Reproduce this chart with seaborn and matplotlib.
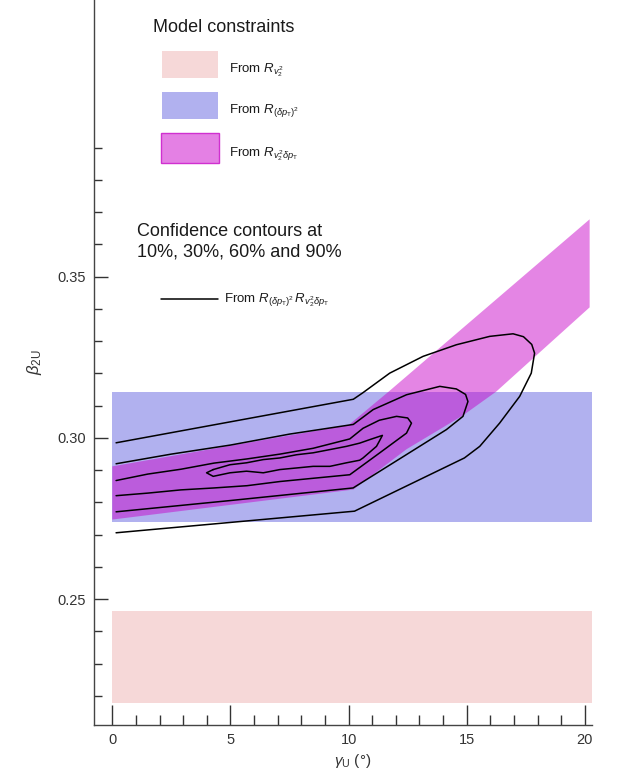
import matplotlib
matplotlib.use('Agg')
import matplotlib.pyplot as plt
import seaborn as sns
import pandas as pd
from matplotlib.patches import Rectangle

# ---- data ----
band_gamma = [0.0, 20.3]

# From R_{v2^2}
v2_lo = 0.2178
v2_hi = 0.2465

# From R_{(dpT)^2}
pt_lo = 0.2740
pt_hi = 0.3143

# From R_{v2^2 dpT} (band with a kink)
mix_upper_gamma = [0.0, 10.0, 11.7, 20.2]
mix_upper_beta = [0.2912, 0.3040, 0.3144, 0.3678]
mix_lower_gamma = [0.0, 10.2, 12.45, 14.84, 16.25, 20.2]
mix_lower_beta = [0.2747, 0.2840, 0.2965, 0.3070, 0.3144, 0.3405]

# confidence contours
c90_gamma = [0.16, 10.2, 10.6, 11.74, 13.15, 14.56, 15.97, 16.96, 17.4, 17.75, 17.87,
             17.73, 17.24, 16.39, 15.55, 14.9, 10.25, 0.16]
c90_beta = [0.2985, 0.3120, 0.3140, 0.3201, 0.3253, 0.3289, 0.3315, 0.3323, 0.3314, 0.3290, 0.3263,
            0.3201, 0.3129, 0.3046, 0.2974, 0.2938, 0.2773, 0.2706]

c60_gamma = [0.16, 2.5, 5.0, 7.5, 10.2, 11.04, 12.45, 13.86, 14.56, 14.95, 15.05,
             14.84, 14.14, 10.19, 5.0, 0.16]
c60_beta = [0.2920, 0.2950, 0.2978, 0.3012, 0.3042, 0.3088, 0.3134, 0.3160, 0.3152, 0.3135, 0.3113,
            0.3067, 0.3026, 0.2845, 0.2806, 0.2771]

c30_gamma = [0.16, 1.5, 2.9, 4.3, 5.7, 7.1, 8.5, 10.05, 10.61, 11.3, 12.03, 12.5, 12.66,
             12.45, 11.32, 10.05, 8.5, 7.1, 5.7, 4.3, 2.9, 1.5, 0.16]
c30_beta = [0.2868, 0.2888, 0.2903, 0.2922, 0.2935, 0.2950, 0.2968, 0.2997, 0.3030, 0.3055,
            0.3067, 0.3062, 0.3046, 0.3015, 0.2954, 0.2886, 0.2875, 0.2865, 0.2852, 0.2845,
            0.2839, 0.2829, 0.2821]

c10_gamma = [4.27, 4.98, 5.68, 6.39, 7.09, 7.80, 8.50, 9.21, 9.91, 10.47, 10.9, 11.43,
             11.3, 11.18, 10.61, 10.47, 9.91, 9.21, 8.50, 7.80, 7.09, 6.39, 5.68, 4.98,
             4.27, 3.99, 4.27]
c10_beta = [0.2902, 0.2917, 0.2923, 0.2933, 0.2938, 0.2948, 0.2954, 0.2964, 0.2974, 0.2984,
            0.2995, 0.3008, 0.2990, 0.2974, 0.2938, 0.2931, 0.2923, 0.2912, 0.2912, 0.2907,
            0.2902, 0.2892, 0.2897, 0.2892, 0.2881, 0.2892, 0.2902]

gamma_major = [0, 5, 10, 15, 20]
gamma_minor = list(range(0, 21))
beta_major = [0.25, 0.30, 0.35]
beta_major_labels = ['0.25', '0.30', '0.35']
beta_minor = [0.22, 0.23, 0.24, 0.25, 0.26, 0.27, 0.28, 0.29, 0.30,
              0.31, 0.32, 0.33, 0.34, 0.35, 0.36, 0.37, 0.38, 0.39]

pink = '#f6d8d8'
blue = '#b1b1ef'
magenta = '#c800c8'
magenta_solid = '#e480e4'

sns.set_theme(style='ticks')
plt.rcParams['font.family'] = ['Liberation Sans', 'DejaVu Sans']
plt.rcParams['mathtext.fontset'] = 'custom'
plt.rcParams['mathtext.rm'] = 'Liberation Sans'
plt.rcParams['mathtext.it'] = 'Liberation Sans:italic'
plt.rcParams['mathtext.bf'] = 'Liberation Sans:bold'

fig = plt.figure(figsize=(6.18, 7.77), dpi=100)
ax = fig.add_axes([94 / 618, 52 / 777, 498 / 618, 725 / 777])

# bands
ax.fill_between(band_gamma, pt_lo, pt_hi, color=blue, lw=0, zorder=1)
ax.fill_between(band_gamma, v2_lo, v2_hi, color=pink, lw=0, zorder=1)
ax.fill(mix_upper_gamma + mix_lower_gamma[::-1], mix_upper_beta + mix_lower_beta[::-1],
        color=magenta, alpha=0.48, lw=0, zorder=2)

# contours
frames = []
for name, g, b in [('90', c90_gamma, c90_beta), ('60', c60_gamma, c60_beta),
                   ('30', c30_gamma, c30_beta), ('10', c10_gamma, c10_beta)]:
    frames.append(pd.DataFrame({'gamma': g, 'beta': b, 'level': name}))
contours = pd.concat(frames, ignore_index=True)
sns.lineplot(data=contours, x='gamma', y='beta', units='level', estimator=None,
             sort=False, color='black', lw=1.1, ax=ax, zorder=3)

ax.set_xlim(-0.774, 20.30)
ax.set_ylim(0.2110, 0.4358)

ax.set_xticks(gamma_major)
ax.set_xticks(gamma_minor, minor=True)
ax.set_yticks(beta_major)
ax.set_yticklabels(beta_major_labels)
ax.set_yticks(beta_minor, minor=True)

ax.tick_params(axis='both', which='both', direction='in', color='#333333',
               labelcolor='#333333', width=1.0, labelsize=10.5)
ax.tick_params(axis='x', which='major', length=14.4, pad=6)
ax.tick_params(axis='x', which='minor', length=7.2)
ax.tick_params(axis='y', which='major', length=10, pad=6)
ax.tick_params(axis='y', which='minor', length=5.6)

sns.despine(ax=ax)
for s in ['left', 'bottom']:
    ax.spines[s].set_color('#444444')
    ax.spines[s].set_linewidth(1.0)

ax.set_xlabel(r'$\gamma_{\rm U}$ (°)', fontsize=11, color='#333333')
ax.xaxis.set_label_coords(0.52, -0.037)
ax.set_ylabel(r'$\beta_{\rm 2U}$', fontsize=12, color='#333333')
ax.yaxis.set_label_coords(-0.10, 0.5)

# legend-like annotations
tr = ax.transAxes
txt = '#1a1a1a'
ax.text(0.119, 0.9563, 'Model constraints', transform=tr, fontsize=13,
        color=txt, va='baseline')
ax.add_patch(Rectangle((0.1359, 0.892), 0.1138, 0.0381, transform=tr,
                       facecolor=pink, edgecolor='none', clip_on=False))
ax.add_patch(Rectangle((0.1359, 0.8354), 0.1138, 0.0381, transform=tr,
                       facecolor=blue, edgecolor='none', clip_on=False))
ax.add_patch(Rectangle((0.1349, 0.7756), 0.1158, 0.0415, transform=tr,
                       facecolor=magenta_solid, edgecolor='#d030d0', lw=1.0, clip_on=False))
ax.text(0.2717, 0.8997, r'From $R_{v_2^2}$', transform=tr, fontsize=9.5,
        color=txt, va='baseline')
ax.text(0.2717, 0.8437, r'From $R_{(\delta p_{\rm T})^2}$', transform=tr, fontsize=9.5,
        color=txt, va='baseline')
ax.text(0.2717, 0.7839, r'From $R_{v_2^2\delta p_{\rm T}}$', transform=tr, fontsize=9.5,
        color=txt, va='baseline')

ax.text(0.087, 0.6745, 'Confidence contours at', transform=tr, fontsize=13,
        color=txt, va='baseline')
ax.text(0.087, 0.6459, '10%, 30%, 60% and 90%', transform=tr, fontsize=13,
        color=txt, va='baseline')
ax.plot([0.1339, 0.2496], [0.5876, 0.5876], transform=tr, color='black', lw=1.1,
        clip_on=False)
ax.text(0.2610, 0.583, r'From $R_{(\delta p_{\rm T})^2}\,R_{v_2^2\delta p_{\rm T}}$',
        transform=tr, fontsize=9.5, color=txt, va='baseline')

fig.savefig('out.png', dpi=100)
